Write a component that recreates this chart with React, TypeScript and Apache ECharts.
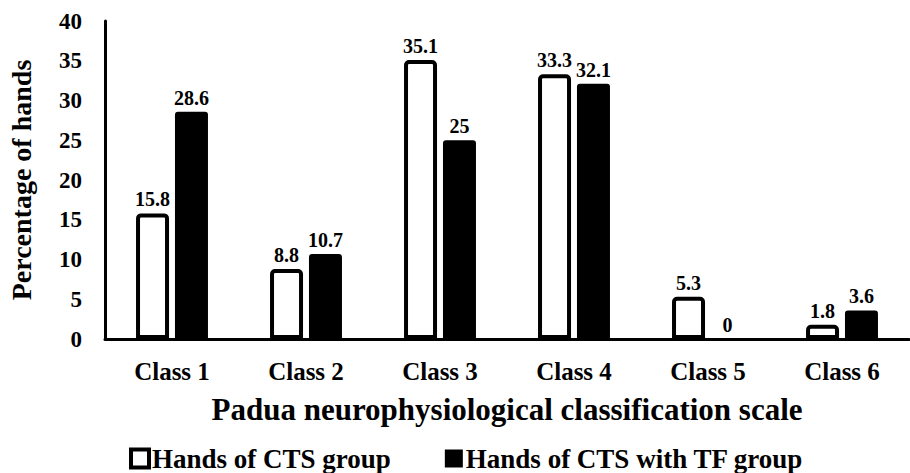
import React, { useEffect, useRef } from "react";
import * as echarts from "echarts";

const categories = ["Class 1", "Class 2", "Class 3", "Class 4", "Class 5", "Class 6"];
const ctsGroup = [15.8, 8.8, 35.1, 33.3, 5.3, 1.8];
const ctsTfGroup = [28.6, 10.7, 25, 32.1, 0, 3.6];
const seriesNames = ["Hands of CTS group", "Hands of CTS with TF group"];

const FONT = "'Liberation Serif', 'Times New Roman', serif";

export default function App() {
  const ref = useRef<HTMLDivElement>(null);
  useEffect(() => {
    if (!ref.current) return;
    const chart = echarts.init(ref.current, null, { renderer: "svg" });
    const labelStyle = {
      show: true,
      position: "top" as const,
      distance: 4,
      color: "#000",
      fontFamily: FONT,
      fontWeight: "bold" as const,
      fontSize: 20,
    };
    chart.setOption({
      animation: false,
      backgroundColor: "#fff",
      textStyle: { fontFamily: FONT },
      grid: { left: 105, right: 1, top: 21, bottom: 134, containLabel: false, outerBoundsMode: "none" },
      legend: {
        left: 129,
        top: 445,
        padding: 0,
        itemWidth: 18,
        itemHeight: 18,
        itemGap: 54,
        icon: "rect",
        textStyle: { color: "#000", fontFamily: FONT, fontWeight: "bold", fontSize: 27, padding: [0, 0, 0, -2] },
        data: [
          { name: seriesNames[0], itemStyle: { color: "#fff", borderColor: "#000", borderWidth: 4 } },
          { name: seriesNames[1], itemStyle: { color: "#000" } },
        ],
      },
      xAxis: {
        type: "category",
        data: categories,
        axisLine: { show: true, lineStyle: { color: "#000", width: 3 } },
        axisTick: { show: false },
        axisLabel: { color: "#000", fontFamily: FONT, fontWeight: "bold", fontSize: 25, margin: 20 },
        name: "Padua neurophysiological classification scale",
        nameLocation: "middle",
        nameGap: 55,
        nameTextStyle: { color: "#000", fontFamily: FONT, fontWeight: "bold", fontSize: 31 },
      },
      yAxis: {
        type: "value",
        min: 0,
        max: 40,
        interval: 5,
        axisLine: { show: true, lineStyle: { color: "#000", width: 3 } },
        axisTick: { show: false },
        splitLine: { show: false },
        axisLabel: { color: "#000", fontFamily: FONT, fontWeight: "bold", fontSize: 23, margin: 23 },
        name: "Percentage of hands",
        nameLocation: "middle",
        nameGap: 70,
        nameRotate: 90,
        nameTextStyle: { color: "#000", fontFamily: FONT, fontWeight: "bold", fontSize: 28 },
      },
      series: [
        {
          name: seriesNames[0],
          type: "bar",
          data: ctsGroup,
          barWidth: 33,
          barGap: "18%",
          itemStyle: { color: "#fff", borderColor: "#000", borderWidth: 4, borderRadius: [3, 3, 0, 0] },
          label: labelStyle,
        },
        {
          name: seriesNames[1],
          type: "bar",
          data: ctsTfGroup,
          barWidth: 33,
          barGap: "18%",
          itemStyle: { color: "#000", borderRadius: [3, 3, 0, 0] },
          label: labelStyle,
        },
      ],
    });
    return () => chart.dispose();
  }, []);
  return (
    <div
      ref={ref}
      style={{ position: "fixed", left: 0, top: 0, width: 910, height: 473 }}
    />
  );
}
